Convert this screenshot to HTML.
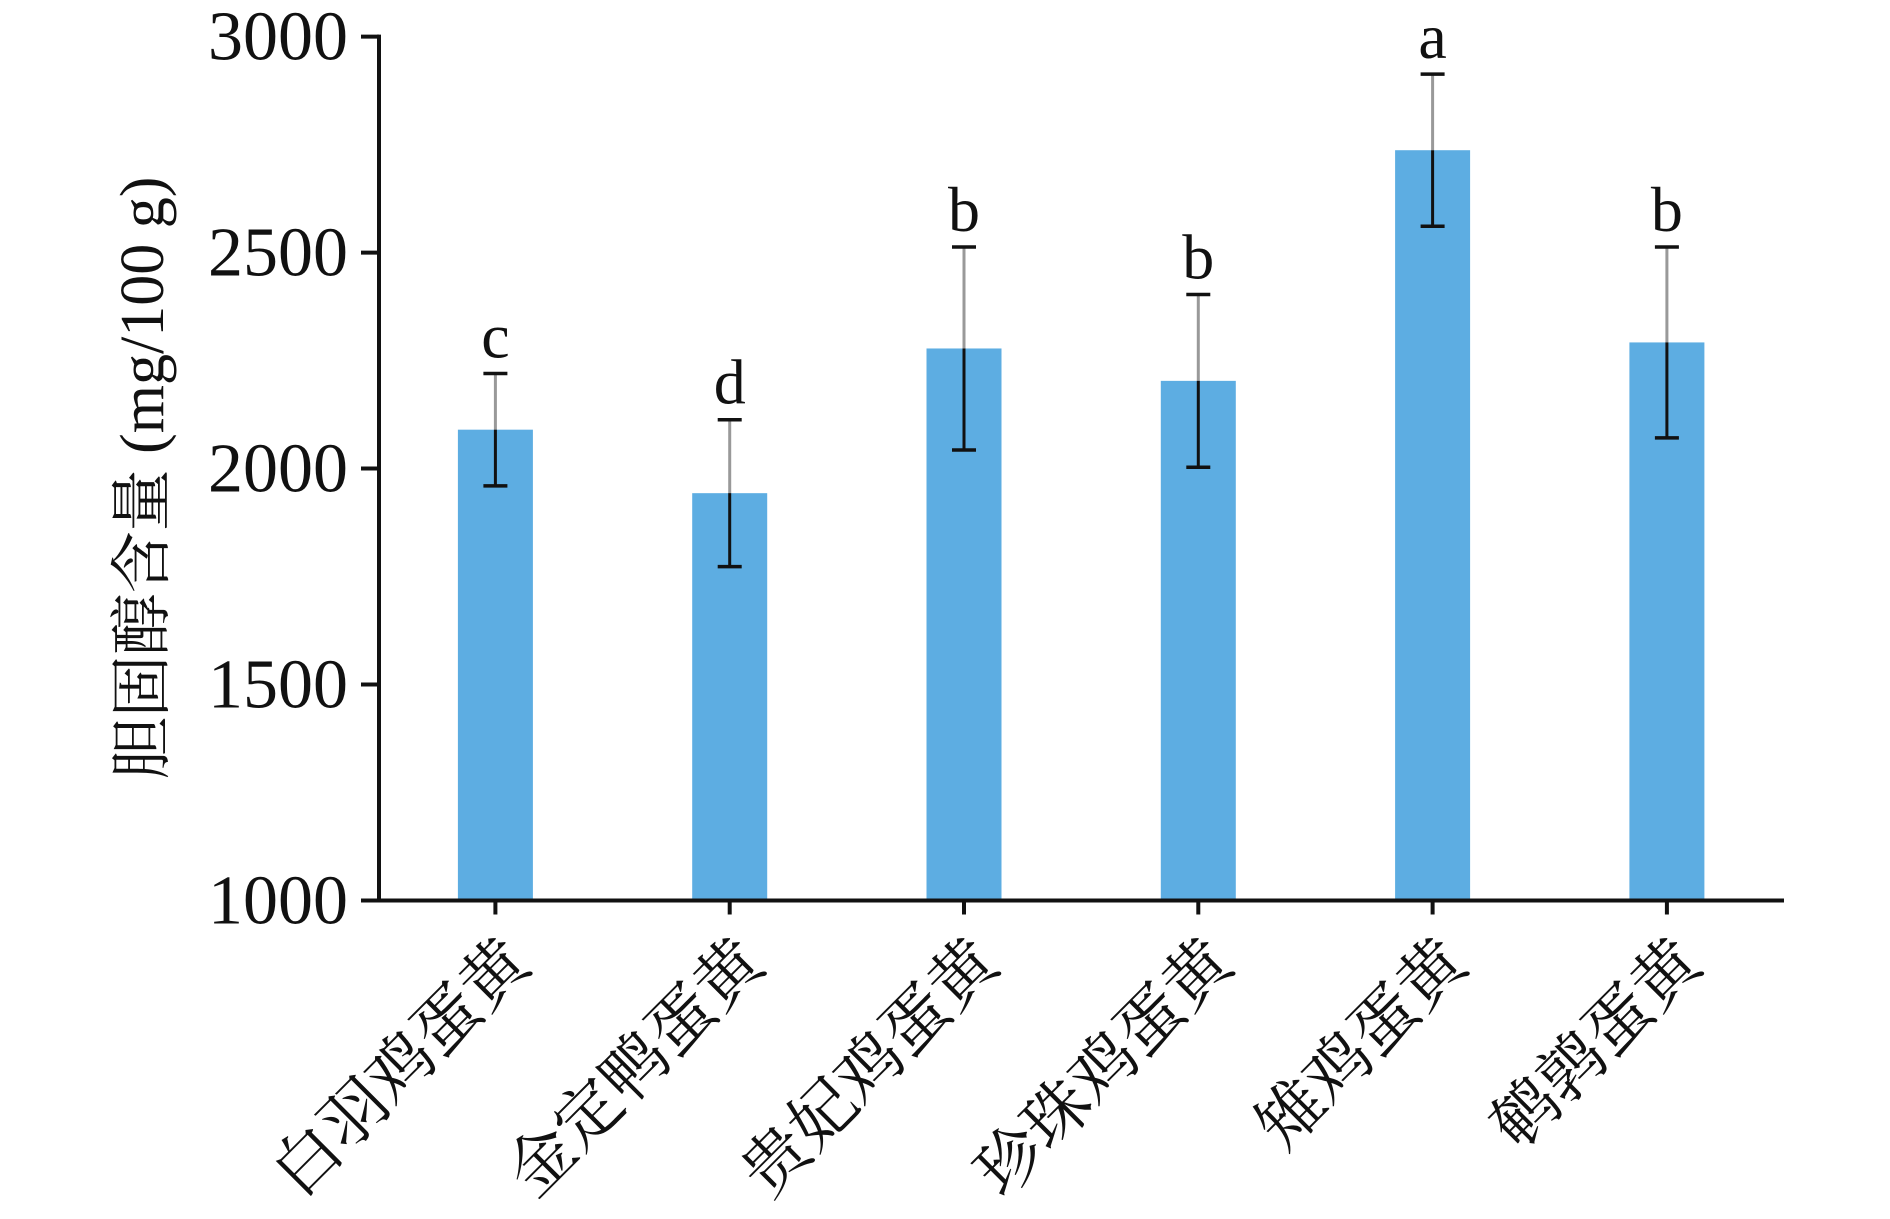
<!DOCTYPE html>
<html><head><meta charset="utf-8"><style>
html,body{margin:0;padding:0;background:#fff;}
svg{display:block;}
text{font-family:"Liberation Serif","Noto Serif CJK SC",serif;fill:#111;}
</style></head><body>
<svg id="chart" width="1890" height="1219" viewBox="0 0 1890 1219" xmlns="http://www.w3.org/2000/svg">
<g id="axes"></g><g id="bars"></g>
</svg>
<script>
const categories=["白羽鸡蛋黄","金定鸭蛋黄","贵妃鸡蛋黄","珍珠鸡蛋黄","雉鸡蛋黄","鹌鹑蛋黄"];
const values=[2090,1943,2278,2203,2737,2292];
const errors=[130,170,235,200,176,221];
const letters=["c","d","b","b","a","b"];
const yTicks=[1000,1500,2000,2500,3000];
const NS="http://www.w3.org/2000/svg";
const X0=379,X1=1784,Y0=900.5,Y1=36.6,yMin=1000,yMax=3000;
const step=234.3;
function xs(i){return 495.4+step*i;}
function ys(v){return Y0-(v-yMin)/(yMax-yMin)*(Y0-Y1);}
function mk(tag,attrs,parent){const e=document.createElementNS(NS,tag);for(const k in attrs)e.setAttribute(k,attrs[k]);parent.appendChild(e);return e;}
const axes=document.getElementById('axes'),bars=document.getElementById('bars');
let e=mk('line',{x1:X0,y1:Y1-2,x2:X0,y2:Y0+2,stroke:'#111','stroke-width':4},axes);


e=mk('line',{x1:X0-2,y1:Y0,x2:X1,y2:Y0,stroke:'#111','stroke-width':4},axes);


yTicks.forEach(t=>{
  const y=ys(t);
  let l=mk('line',{x1:X0-18,y1:y,x2:X0,y2:y,stroke:'#111','stroke-width':4},axes);
  
  
  let tx=mk('text',{x:X0-31,y:y+23,'text-anchor':'end','font-size':70},axes);
  tx.textContent=t;
  
  
});
let yt=mk('text',{x:0,y:0,'text-anchor':'middle','font-size':62,transform:'translate(163,478) rotate(-90)'},axes);
yt.textContent='胆固醇含量 (mg/100 g)';


categories.forEach((c,i)=>{
  const cx=xs(i),bw=75,v=values[i],er=errors[i];
  let tk=mk('line',{x1:cx,y1:Y0,x2:cx,y2:Y0+14,stroke:'#111','stroke-width':4},axes);
  
  
  let r=mk('rect',{x:cx-bw/2,y:ys(v),width:bw,height:Y0-2-ys(v),fill:'#5dade2'},bars);
  
  
  let g1=mk('line',{x1:cx,y1:ys(v+er),x2:cx,y2:ys(v),stroke:'#999','stroke-width':3},bars);
  
  
  let g2=mk('line',{x1:cx,y1:ys(v),x2:cx,y2:ys(v-er),stroke:'#111','stroke-width':3},bars);
  
  
  [v+er,v-er].forEach(val=>{
    let cp=mk('line',{x1:cx-12,y1:ys(val),x2:cx+12,y2:ys(val),stroke:'#111','stroke-width':3.5},bars);
    
    
  });
  let lt=mk('text',{x:cx,y:ys(v+er)-16,'text-anchor':'middle','font-size':64},bars);
  lt.textContent=letters[i];
  
  
  let cl=mk('text',{x:0,y:0,'text-anchor':'end','font-size':66,transform:'translate('+(cx+38)+','+(Y0+66)+') rotate(-45)'},axes);
  cl.textContent=c;
  
  
});
</script>
</body></html>
